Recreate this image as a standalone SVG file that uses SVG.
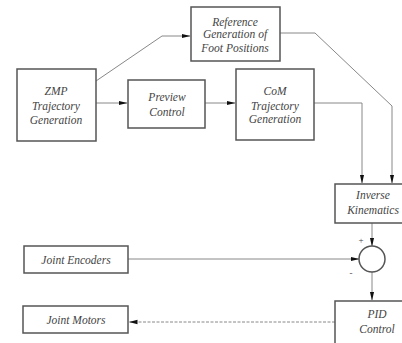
<svg xmlns="http://www.w3.org/2000/svg" width="402" height="343" viewBox="0 0 402 343">
<defs>
<style>
.box{fill:#fff;stroke:#555;stroke-width:1.5}
.t{font-family:"Liberation Serif",serif;font-style:italic;font-size:11.5px;fill:#444;text-anchor:middle}
.c{fill:none;stroke:#888;stroke-width:1}
.d{fill:none;stroke:#888;stroke-width:1;stroke-dasharray:3,1.5}
</style>
<marker id="a" markerWidth="9" markerHeight="6" refX="8.5" refY="3" orient="auto" markerUnits="userSpaceOnUse">
<path d="M0,0.8 L9,3 L0,5.2 Z" fill="#111"/>
</marker>
</defs>
<rect width="402" height="343" fill="#fff"/>
<g id="connectors">
<polyline class="c" points="96,81 162,36 190,36" marker-end="url(#a)"/>
<line class="c" x1="96" y1="103" x2="127" y2="103" marker-end="url(#a)"/>
<line class="c" x1="205" y1="103" x2="235" y2="103" marker-end="url(#a)"/>
<polyline class="c" points="280,33 315,33 392,106 392,183" marker-end="url(#a)"/>
<polyline class="c" points="314,103 362,103 362,183" marker-end="url(#a)"/>
<line class="c" x1="372" y1="223" x2="372" y2="246" marker-end="url(#a)"/>
<line class="c" x1="128" y1="259" x2="359" y2="259" marker-end="url(#a)"/>
<line class="c" x1="372" y1="272" x2="372" y2="300" marker-end="url(#a)"/>
<line class="d" x1="335" y1="322" x2="129" y2="322" marker-end="url(#a)"/>
</g>
<g id="ref">
<rect class="box" x="191" y="7" width="89" height="54"/>
<text class="t" x="235" y="26">Reference</text>
<text class="t" x="235" y="38">Generation of</text>
<text class="t" x="235" y="52">Foot Positions</text>
</g>
<g id="zmp">
<rect class="box" x="17" y="69" width="79" height="72"/>
<text class="t" x="56" y="95">ZMP</text>
<text class="t" x="56" y="110">Trajectory</text>
<text class="t" x="56" y="124">Generation</text>
</g>
<g id="preview">
<rect class="box" x="128" y="80" width="77" height="48"/>
<text class="t" x="167" y="101">Preview</text>
<text class="t" x="167" y="116">Control</text>
</g>
<g id="com">
<rect class="box" x="236" y="69" width="78" height="71"/>
<text class="t" x="275" y="95">CoM</text>
<text class="t" x="275" y="110">Trajectory</text>
<text class="t" x="275" y="123">Generation</text>
</g>
<g id="ik">
<rect class="box" x="335" y="184" width="70" height="39"/>
<text class="t" x="373" y="199">Inverse</text>
<text class="t" x="373" y="214">Kinematics</text>
</g>
<g id="sum">
<circle cx="372" cy="259" r="13" fill="#fff" stroke="#555" stroke-width="1.5"/>
<text class="t" x="361" y="243" style="font-style:normal;font-size:9px">+</text>
<text class="t" x="351" y="276" style="font-style:normal;font-size:9px">-</text>
</g>
<g id="pid">
<rect class="box" x="335" y="301" width="70" height="45"/>
<text class="t" x="377" y="318">PID</text>
<text class="t" x="377" y="333">Control</text>
</g>
<g id="enc">
<rect class="box" x="24" y="246" width="104" height="27"/>
<text class="t" x="76" y="264">Joint Encoders</text>
</g>
<g id="motors">
<rect class="box" x="23" y="306" width="105" height="27"/>
<text class="t" x="76" y="324">Joint Motors</text>
</g>
</svg>
